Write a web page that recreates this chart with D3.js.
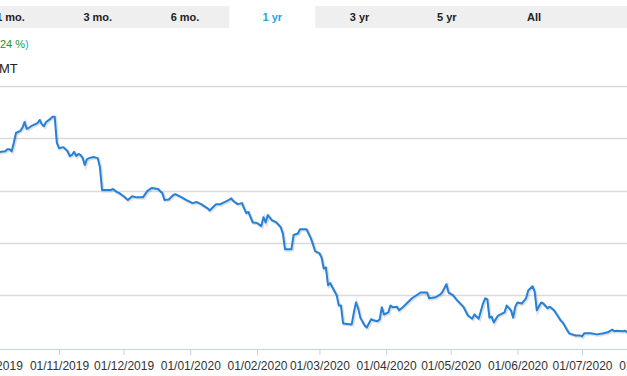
<!DOCTYPE html>
<html>
<head>
<meta charset="utf-8">
<script src="https://cdn.jsdelivr.net/npm/d3@7"></script>
<style>
body { margin: 0; background: #fff; }
svg { display: block; font-family: "Liberation Sans", Arial, sans-serif; }
</style>
</head>
<body>
<div id="chart"></div>
<script>
// tabs across the top
var tabs = ["1 mo.", "3 mo.", "6 mo.", "1 yr", "3 yr", "5 yr", "All"];
var activeTab = "1 yr";

// dates / prices
var dates = ["2019-10-03","2019-10-05","2019-10-07","2019-10-08","2019-10-09","2019-10-10","2019-10-11","2019-10-12","2019-10-13","2019-10-14","2019-10-15","2019-10-16","2019-10-17","2019-10-18","2019-10-19","2019-10-21","2019-10-22","2019-10-23","2019-10-24","2019-10-25","2019-10-26","2019-10-28","2019-10-29","2019-10-30","2019-10-31",
  "2019-11-01","2019-11-03","2019-11-05","2019-11-06","2019-11-07","2019-11-08","2019-11-09","2019-11-10","2019-11-11","2019-11-12","2019-11-13","2019-11-14","2019-11-15","2019-11-17","2019-11-19","2019-11-20","2019-11-21","2019-11-23","2019-11-25","2019-11-26","2019-11-28","2019-11-29",
  "2019-12-01","2019-12-03","2019-12-05","2019-12-07","2019-12-10","2019-12-12","2019-12-14","2019-12-17","2019-12-19","2019-12-20","2019-12-22","2019-12-24","2019-12-25","2019-12-28","2019-12-30",
  "2020-01-02","2020-01-04","2020-01-06","2020-01-09","2020-01-10","2020-01-12","2020-01-13","2020-01-15","2020-01-16","2020-01-19","2020-01-20","2020-01-21","2020-01-23","2020-01-25","2020-01-26","2020-01-27","2020-01-28","2020-01-30",
  "2020-02-01","2020-02-03","2020-02-04","2020-02-05","2020-02-06","2020-02-08","2020-02-10","2020-02-12","2020-02-13","2020-02-14","2020-02-17","2020-02-18","2020-02-20","2020-02-21","2020-02-24","2020-02-26","2020-02-27","2020-02-28",
  "2020-03-01","2020-03-02","2020-03-03","2020-03-04","2020-03-05","2020-03-06","2020-03-07","2020-03-09","2020-03-10","2020-03-11","2020-03-12","2020-03-16","2020-03-17","2020-03-18","2020-03-19","2020-03-20","2020-03-22","2020-03-23","2020-03-25","2020-03-26","2020-03-28","2020-03-29","2020-03-30","2020-03-31",
  "2020-04-02","2020-04-03","2020-04-04","2020-04-06","2020-04-07","2020-04-09","2020-04-11","2020-04-13","2020-04-17","2020-04-20","2020-04-21","2020-04-24","2020-04-26","2020-04-27","2020-04-29","2020-04-30",
  "2020-05-02","2020-05-04","2020-05-07","2020-05-09","2020-05-11","2020-05-12","2020-05-14","2020-05-16","2020-05-17","2020-05-18","2020-05-19","2020-05-20","2020-05-21","2020-05-23","2020-05-26","2020-05-27","2020-05-29","2020-05-30","2020-05-31",
  "2020-06-01","2020-06-03","2020-06-05","2020-06-06","2020-06-08","2020-06-09","2020-06-10","2020-06-12","2020-06-13","2020-06-15","2020-06-16","2020-06-18","2020-06-19","2020-06-21","2020-06-22","2020-06-24","2020-06-25","2020-06-28","2020-06-30",
  "2020-07-01","2020-07-02","2020-07-05","2020-07-08","2020-07-11","2020-07-13","2020-07-15","2020-07-16","2020-07-17","2020-07-20","2020-07-21","2020-07-22","2020-07-24"];

var prices = [137.4,137.6,137.7,138.1,138.1,137.7,139.3,141.2,141.4,141.6,142.2,143.3,142.0,142.2,142.5,142.9,143.1,143.7,142.9,142.5,143.3,143.9,144.3,144.3,139.3,
  138.3,138.5,137.7,136.8,137.0,137.6,136.8,137.2,137.0,136.4,135.1,136.2,136.4,136.6,136.4,134.7,130.3,130.3,130.3,130.5,129.9,129.7,
  129.1,128.4,129.1,128.9,128.9,130.1,130.7,130.5,129.7,128.4,128.5,129.3,129.5,128.9,128.4,
  127.8,128.0,127.6,126.8,126.4,127.2,127.6,127.6,127.8,128.4,128.7,128.2,127.6,127.8,126.8,125.9,126.1,124.1,
  124.0,123.4,125.1,124.1,125.5,124.5,124.1,123.2,122.0,119.0,119.0,121.7,122.0,122.8,122.8,121.1,119.9,118.6,
  118.2,117.4,115.3,115.5,112.1,112.5,111.7,110.2,108.2,108.2,104.8,104.6,106.9,108.8,107.7,105.9,104.4,104.0,105.6,105.4,105.2,105.6,107.9,106.5,
  106.9,108.2,107.9,108.0,107.3,108.0,108.8,109.6,110.7,110.7,109.6,109.8,110.3,110.7,112.3,110.7,
  110.2,109.2,107.9,106.3,105.7,106.5,105.7,108.6,109.6,109.4,105.9,106.1,105.0,106.3,106.9,108.2,107.3,105.9,108.0,
  108.8,108.6,109.6,111.1,111.9,110.9,107.3,108.8,108.6,107.7,108.0,107.3,106.7,105.4,105.0,103.6,102.9,102.5,102.5,
  102.3,102.9,102.9,102.7,102.9,103.1,103.6,103.3,103.4,103.3,103.4,103.1,103.0];

var gridValues = [110, 120, 130, 140, 150];
var tickDates = ["2019-10-01","2019-11-01","2019-12-01","2020-01-01","2020-02-01","2020-03-01","2020-04-01","2020-05-01","2020-06-01","2020-07-01","2020-08-01"];

var width = 627, height = 376;
var parseDate = d3.timeParse("%Y-%m-%d");
var data = dates.map(function(d, i) { return {date: parseDate(d), price: prices[i]}; });

var svg = d3.select("#chart").append("svg")
  .attr("width", width)
  .attr("height", height);

// tab bar
svg.append("rect").attr("x", 0).attr("y", 6).attr("width", width).attr("height", 22).attr("fill", "#efefef");
var tabX = d3.scalePoint().domain(tabs).range([10.5, 534]);
svg.append("rect").attr("x", tabX(activeTab) - 43).attr("y", 6).attr("width", 86).attr("height", 22).attr("fill", "#fff");
svg.selectAll(".tab").data(tabs).enter().append("text")
  .attr("x", function(d) { return tabX(d); })
  .attr("y", 21)
  .attr("text-anchor", "middle")
  .style("font-size", "11px")
  .style("font-weight", "bold")
  .attr("fill", function(d) { return d == activeTab ? "#2aa2e2" : "#222"; })
  .text(function(d) { return d; });

// change + timezone text (cut off at left)
var chg = svg.append("text").attr("x", 0).attr("y", 48).style("font-size", "11px");
chg.append("tspan").attr("fill", "#1a9a1a").text("24 %");
chg.append("tspan").attr("fill", "#2aa2e2").text(")");
svg.append("text").attr("x", -1).attr("y", 73).style("font-size", "13px").attr("fill", "#222").text("MT");

var x = d3.scaleTime().domain([parseDate("2019-11-01"), parseDate("2020-07-01")]).range([59, 582]);
var y = d3.scaleLinear().domain([100, 150]).range([348.5, 87]);

// grid
svg.selectAll(".grid").data(gridValues).enter().append("line")
  .attr("x1", 0).attr("x2", width)
  .attr("y1", function(d) { return Math.round(y(d)) - 0.5; })
  .attr("y2", function(d) { return Math.round(y(d)) - 0.5; })
  .attr("stroke", "#dadada").attr("stroke-width", 1.5);

// x axis
var xAxis = svg.append("g")
  .attr("transform", "translate(0," + 349 + ")")
  .call(d3.axisBottom(x)
    .tickValues(tickDates.map(parseDate))
    .tickFormat(d3.timeFormat("%d/%m/%Y"))
    .tickSize(6).tickSizeOuter(0));
xAxis.select(".domain").attr("stroke", "#c3d3e3").attr("d", "M0,0.5H" + width);
xAxis.selectAll(".tick line").attr("stroke", "#c3d3e3").attr("y1", 0);
xAxis.selectAll(".tick text")
  .attr("y", 12)
  .attr("fill", "#333")
  .style("font-size", "12px")
  .style("font-family", "Liberation Sans, Arial, sans-serif");

// price line
var priceLine = d3.line()
  .x(function(d) { return x(d.date); })
  .y(function(d) { return y(d.price); });
svg.append("path").datum(data)
  .attr("d", priceLine)
  .attr("fill", "none")
  .attr("stroke", "#000").attr("stroke-opacity", 0.12)
  .attr("stroke-width", 3)
  .attr("transform", "translate(1,1)");
svg.append("path").datum(data)
  .attr("d", priceLine)
  .attr("fill", "none")
  .attr("stroke", "#2580d8")
  .attr("stroke-width", 2)
  .attr("stroke-linejoin", "round");
</script>
</body>
</html>
